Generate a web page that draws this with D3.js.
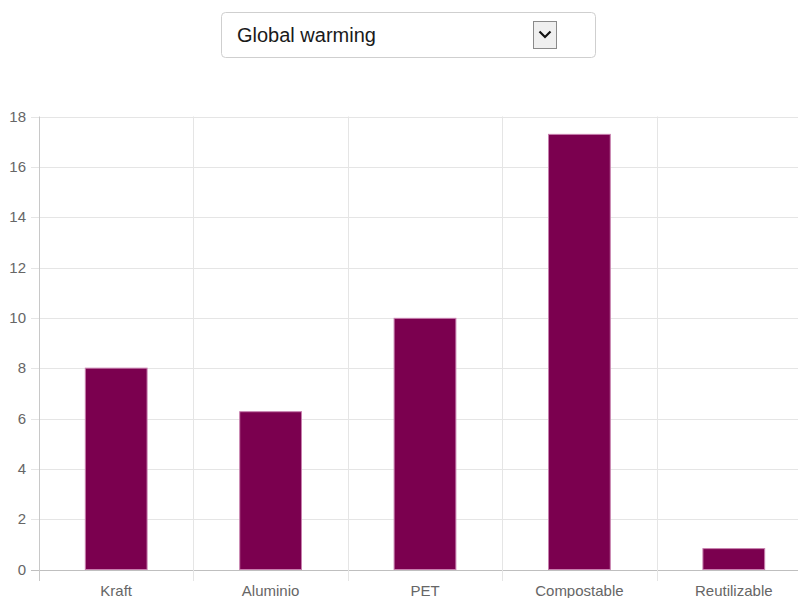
<!DOCTYPE html>
<html><head><meta charset="utf-8">
<script src="https://cdn.jsdelivr.net/npm/d3@7"></script>
<style>html,body{margin:0;padding:0;background:#fff;overflow:hidden}</style>
</head><body>
<svg id="c" width="798" height="598"></svg>
<script>
const categories = ["Kraft", "Aluminio", "PET", "Compostable", "Reutilizable"];
const values = [8.0, 6.27, 9.98, 17.29, 0.83];
const yTicks = [0, 2, 4, 6, 8, 10, 12, 14, 16, 18];
const selected = "Global warming";

const svg = d3.select("#c");
const pLeft = 39, pRight = 811, pTop = 116.5, pBottom = 569.5;

const x = d3.scaleBand().domain(categories).range([pLeft, pRight]);
const y = d3.scaleLinear().domain([0, 18]).range([pBottom, pTop]);

// horizontal grid
svg.append("g").selectAll("line").data(yTicks).join("line")
  .attr("x1", 31).attr("x2", 798)
  .attr("y1", d => Math.round(y(d)) + 0.5).attr("y2", d => Math.round(y(d)) + 0.5)
  .attr("stroke", d => d === 0 ? "#bfbfbf" : "#e5e5e5").attr("stroke-width", 1);

// vertical grid
const xs = categories.map(c => x(c));
svg.append("g").selectAll("line").data(xs).join("line")
  .attr("x1", d => Math.round(d) + 0.5).attr("x2", d => Math.round(d) + 0.5)
  .attr("y1", pTop).attr("y2", 581)
  .attr("stroke", (d, i) => i === 0 ? "#c8c8c8" : "#e5e5e5");

// y labels
svg.append("g").selectAll("text").data(yTicks).join("text")
  .attr("x", 26).attr("y", d => y(d)).attr("dy", "0.35em")
  .attr("text-anchor", "end")
  .attr("font-family", "Liberation Sans, Arial, sans-serif").attr("font-size", 15)
  .attr("fill", "#666").text(d => d);

// x labels
svg.append("g").selectAll("text").data(categories).join("text")
  .attr("x", d => x(d) + x.bandwidth() / 2).attr("y", 596)
  .attr("text-anchor", "middle")
  .attr("font-family", "Liberation Sans, Arial, sans-serif").attr("font-size", 15)
  .attr("fill", "#666").text(d => d);

// bars
const bw = x.bandwidth() * 0.4;
svg.append("g").selectAll("rect").data(categories).join("rect")
  .attr("x", d => x(d) + x.bandwidth() / 2 - bw / 2)
  .attr("y", (d, i) => y(values[i]))
  .attr("width", bw)
  .attr("height", (d, i) => pBottom - y(values[i]))
  .attr("fill", "#7b004f")
  .attr("stroke", "#c77fae").attr("stroke-width", 1);

// dropdown
const dd = svg.append("g");
dd.append("rect").attr("x", 221.5).attr("y", 12.5).attr("width", 374).attr("height", 45)
  .attr("rx", 4).attr("fill", "#fff").attr("stroke", "#cfcfcf");
dd.append("text").attr("x", 237).attr("y", 42)
  .attr("font-family", "Liberation Sans, Arial, sans-serif").attr("font-size", 20)
  .attr("fill", "#1a1a1a").text(selected);
dd.append("rect").attr("x", 533.5).attr("y", 21.5).attr("width", 23).attr("height", 27)
  .attr("fill", "#efefef").attr("stroke", "#8a8a8a");
dd.append("path").attr("d", "M539.5,31.5 L545,37 L550.5,31.5")
  .attr("fill", "none").attr("stroke", "#111").attr("stroke-width", 2.2);
</script>
</body></html>
